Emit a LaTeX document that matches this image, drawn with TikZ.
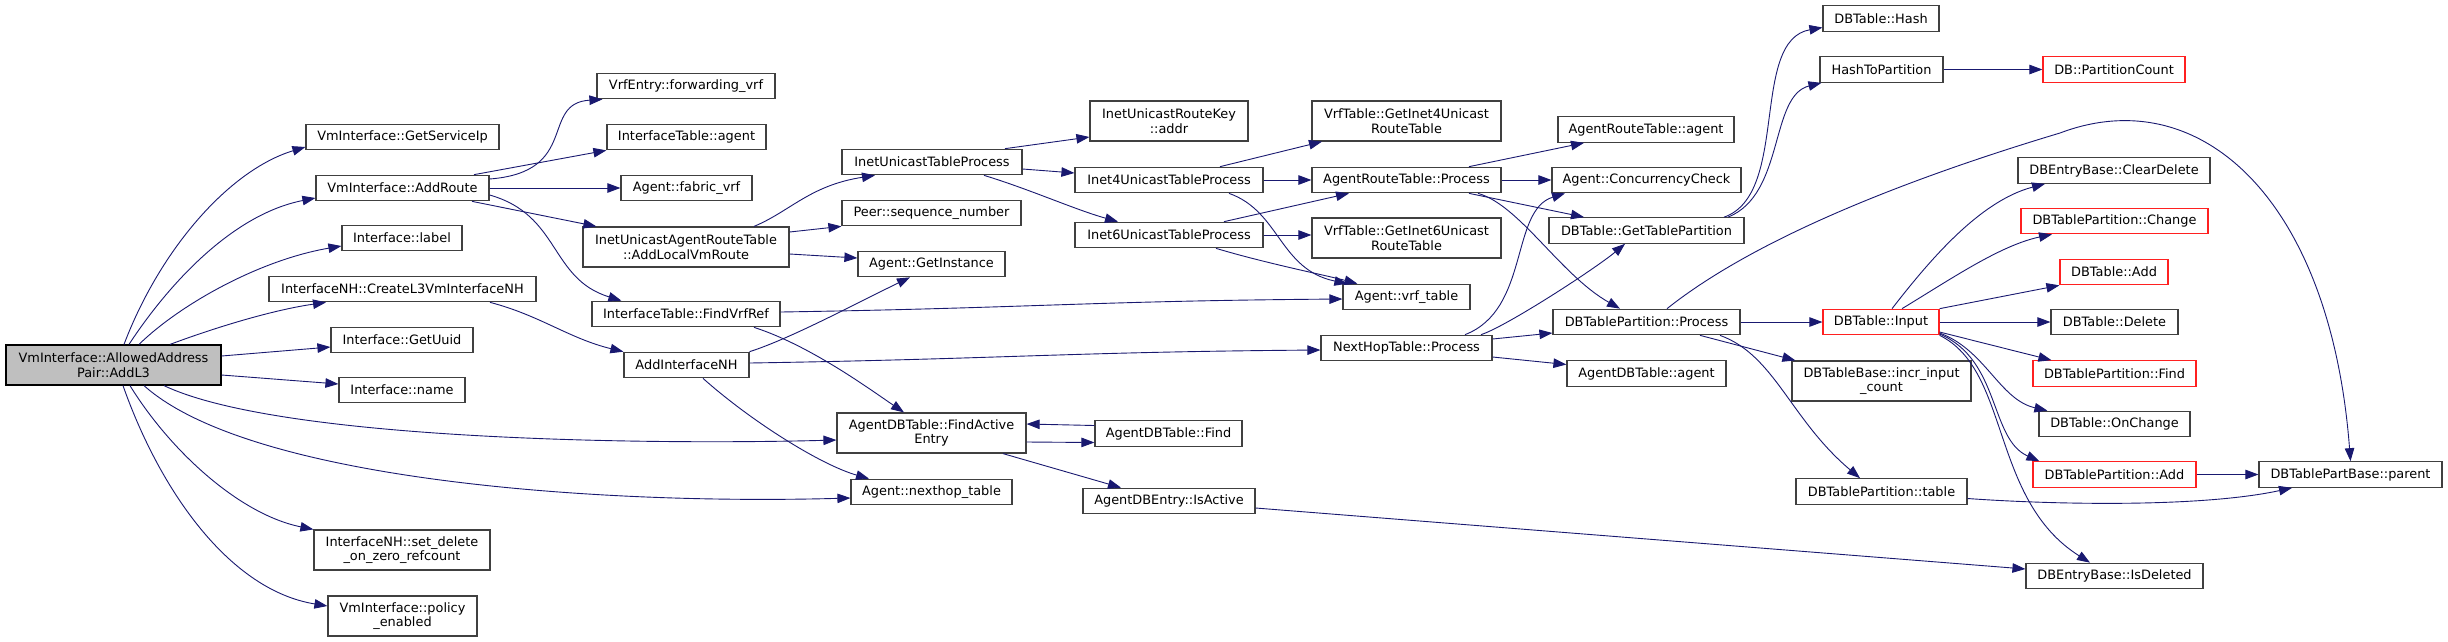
\documentclass[tikz,border=0pt]{standalone}
\usepackage{fontspec}
\setmainfont{DejaVu Sans}
\usetikzlibrary{arrows.meta}
\definecolor{edgec}{HTML}{191970}
\definecolor{bord}{HTML}{404040}
\definecolor{srcfill}{HTML}{BFBFBF}
\definecolor{redb}{HTML}{FF2020}
\tikzset{
  nd/.style={draw=bord, line width=1.2pt, fill=white, minimum height=25.5pt,
    inner xsep=2pt, inner ysep=0pt, align=center,
    font=\fontsize{12.9}{14.5}\selectfont},
  two/.style={minimum height=40pt},
  rd/.style={nd, draw=redb},
  src/.style={nd, two, fill=srcfill, draw=black},
  e/.style={-{Triangle[length=13pt,width=9.5pt]}, draw=edgec, line width=0.9pt},
}
\begin{document}
\begin{tikzpicture}[x=1pt,y=-1pt]
\useasboundingbox (0,0) rectangle (2448,641);
\fill[white] (0,0) rectangle (2448,641);
% column 1
\node[src, minimum width=215pt] (A) at (113.5,365) {VmInterface::AllowedAddress\\Pair::AddL3};
% column 2
\node[nd, minimum width=193pt] (gsip) at (402.5,137) {VmInterface::GetServiceIp};
\node[nd, minimum width=173pt] (addroute) at (402.5,188) {VmInterface::AddRoute};
\node[nd, minimum width=120pt] (label) at (402,238) {Interface::label};
\node[nd, minimum width=267pt] (createnh) at (402.5,289) {InterfaceNH::CreateL3VmInterfaceNH};
\node[nd, minimum width=142pt] (uuid) at (402,340) {Interface::GetUuid};
\node[nd, minimum width=126pt] (name) at (402,390) {Interface::name};
\node[nd, two, minimum width=176pt] (setdel) at (402,550) {InterfaceNH::set\_delete\\\_on\_zero\_refcount};
\node[nd, two, minimum width=149pt] (policy) at (402.5,616) {VmInterface::policy\\\_enabled};
% column 3
\node[nd, minimum width=178pt] (fwdvrf) at (686,86) {VrfEntry::forwarding\_vrf};
\node[nd, minimum width=159pt] (itagent) at (686.5,137) {InterfaceTable::agent};
\node[nd, minimum width=131pt] (fabvrf) at (686.5,188) {Agent::fabric\_vrf};
\node[nd, two, minimum width=206pt] (addlocal) at (686,247) {InetUnicastAgentRouteTable\\::AddLocalVmRoute};
\node[nd, minimum width=188pt] (findvrf) at (686,314) {InterfaceTable::FindVrfRef};
\node[nd, minimum width=125pt] (addnh) at (686.5,365) {AddInterfaceNH};
% column 4
\node[nd, minimum width=180pt] (inetproc) at (932,162) {InetUnicastTableProcess};
\node[nd, minimum width=179pt] (peer) at (931.5,213) {Peer::sequence\_number};
\node[nd, minimum width=147pt] (getinst) at (931.5,264) {Agent::GetInstance};
\node[nd, two, minimum width=189pt] (findactive) at (931.5,433) {AgentDBTable::FindActive\\Entry};
\node[nd, minimum width=161pt] (nhtable) at (931.5,492) {Agent::nexthop\_table};
% column 5
\node[nd, two, minimum width=158pt] (routekey) at (1169,121) {InetUnicastRouteKey\\::addr};
\node[nd, minimum width=188pt] (inet4) at (1169,180) {Inet4UnicastTableProcess};
\node[nd, minimum width=188pt] (inet6) at (1169,235) {Inet6UnicastTableProcess};
\node[nd, minimum width=147pt] (dbfind) at (1168.5,433.5) {AgentDBTable::Find};
\node[nd, minimum width=172pt] (isactive) at (1169,501) {AgentDBEntry::IsActive};
% column 6
\node[nd, two, minimum width=189pt] (getinet4) at (1406.5,121) {VrfTable::GetInet4Unicast\\RouteTable};
\node[nd, minimum width=189pt] (artproc) at (1406.5,180) {AgentRouteTable::Process};
\node[nd, two, minimum width=189pt] (getinet6) at (1406.5,238) {VrfTable::GetInet6Unicast\\RouteTable};
\node[nd, minimum width=127pt] (vrftable) at (1406.5,297) {Agent::vrf\_table};
\node[nd, minimum width=171pt] (nhproc) at (1406.5,348) {NextHopTable::Process};
% column 7
\node[nd, minimum width=176pt] (artagent) at (1646,129.5) {AgentRouteTable::agent};
\node[nd, minimum width=189pt] (conc) at (1646.5,180) {Agent::ConcurrencyCheck};
\node[nd, minimum width=195pt] (gettp) at (1646.5,230.5) {DBTable::GetTablePartition};
\node[nd, minimum width=187pt] (dbtpproc) at (1646.5,322) {DBTablePartition::Process};
\node[nd, minimum width=159pt] (adbagent) at (1646.5,373.5) {AgentDBTable::agent};
% column 8
\node[nd, minimum width=116pt] (hash) at (1881,18.5) {DBTable::Hash};
\node[nd, minimum width=123pt] (h2p) at (1881.5,69.5) {HashToPartition};
\node[rd, minimum width=116pt] (input) at (1881,322) {DBTable::Input};
\node[nd, two, minimum width=179pt] (incr) at (1881.5,381) {DBTableBase::incr\_input\\\_count};
\node[nd, minimum width=171pt] (tptable) at (1881.5,491.5) {DBTablePartition::table};
% column 9
\node[rd, minimum width=142pt] (pcount) at (2114,69.5) {DB::PartitionCount};
\node[nd, minimum width=192pt] (cleardel) at (2114,170.5) {DBEntryBase::ClearDelete};
\node[rd, minimum width=187pt] (change) at (2114.5,221) {DBTablePartition::Change};
\node[rd, minimum width=108pt] (dbadd) at (2114,272) {DBTable::Add};
\node[nd, minimum width=127pt] (dbdel) at (2114.5,322) {DBTable::Delete};
\node[rd, minimum width=163pt] (tpfind) at (2114.5,373.5) {DBTablePartition::Find};
\node[nd, minimum width=151pt] (onchange) at (2114.5,424) {DBTable::OnChange};
\node[rd, minimum width=163pt] (tpadd) at (2114.5,474.5) {DBTablePartition::Add};
\node[nd, minimum width=177pt] (isdel) at (2114.5,576) {DBEntryBase::IsDeleted};
% column 10
\node[nd, minimum width=183pt] (parent) at (2350.5,474.5) {DBTablePartBase::parent};
\coordinate (archtop) at (2060,133);

% edges from AddL3
\draw[e] ([xshift=10.5pt]A.north) .. controls +(36,-95) and +(-76,23) .. ([yshift=-10pt]gsip.west);
\draw[e] ([xshift=15.5pt]A.north) .. controls +(36,-55) and +(-86,17) .. ([yshift=-10pt]addroute.west);
\draw[e] ([xshift=25.5pt]A.north) .. controls +(41,-40) and +(-82,14) .. ([yshift=-8pt]label.west);
\draw[e] ([xshift=56.5pt]A.north) .. controls +(40,-15) and +(-56,8) .. ([xshift=-76.5pt]createnh.south);
\draw[e] ([yshift=9pt]A.east) -- ([yshift=-7pt]uuid.west);
\draw[e] ([yshift=-10pt]A.east) -- ([yshift=6pt]name.west);
\draw[e] ([xshift=50.5pt]A.south) .. controls +(116,55) and +(-187,5) .. ([yshift=-7pt]findactive.west);
\draw[e] ([xshift=30.5pt]A.south) .. controls +(106,95) and +(-251,7) .. ([yshift=-6pt]nhtable.west);
\draw[e] ([xshift=16.5pt]A.south) .. controls +(40,65) and +(-74,-15) .. (setdel.north west);
\draw[e] ([xshift=9.5pt]A.south) .. controls +(37,105) and +(-98,-16) .. ([yshift=10pt]policy.west);
% AddRoute
\draw[e] ([yshift=9pt]addroute.east) .. controls +(91,-7) and +(-63,4) .. ([xshift=6pt]fwdvrf.south west);
\draw[e] ([xshift=71.5pt]addroute.north) -- (itagent.south west);
\draw[e] (addroute.east) -- (fabvrf.west);
\draw[e] ([xshift=69.5pt]addroute.south) -- ([xshift=14pt]addlocal.north west);
\draw[e] ([yshift=-7pt]addroute.east) .. controls +(71,20) and +(-72,-22) .. ([xshift=30pt]findvrf.north west);
% CreateL3VmInterfaceNH
\draw[e] ([xshift=87.5pt]createnh.south) .. controls +(50,13) and +(-54,-13) .. (addnh.north west);
% AddLocalVmRoute
\draw[e] ([xshift=68pt]addlocal.north) .. controls +(36,-15) and +(-65,10) .. ([xshift=-57pt]inetproc.south);
\draw[e] ([yshift=15pt]addlocal.east) -- (peer.south west);
\draw[e] ([yshift=-7pt]addlocal.east) -- ([yshift=6pt]getinst.west);
% FindVrfRef
\draw[e] ([yshift=2pt]findvrf.east) .. controls +(250,-4) and +(-250,2) .. ([yshift=-2pt]vrftable.west);
\draw[e] ([xshift=68pt]findvrf.south) .. controls +(56,18) and +(-34,-23) .. ([xshift=-27.5pt]findactive.north);
% AddInterfaceNH
\draw[e] (addnh.north east) .. controls +(41,-13) and +(-50,24) .. ([xshift=-21.5pt]getinst.south);
\draw[e] ([yshift=2pt]addnh.east) .. controls +(250,-4) and +(-250,2) .. ([yshift=-2pt]nhproc.west);
\draw[e] ([xshift=16.5pt]addnh.south) .. controls +(47,42) and +(-49,-14) .. ([xshift=-62.5pt]nhtable.north);
% InetUnicastTableProcess
\draw[e] ([xshift=73pt]inetproc.north) -- ([yshift=-16pt]routekey.west);
\draw[e] ([yshift=-7pt]inetproc.east) -- ([yshift=7pt]inet4.west);
\draw[e] ([xshift=52pt]inetproc.south) .. controls +(46,14) and +(-43,-12) .. ([xshift=-51pt]inet6.north);
% FindActiveEntry / Find
\draw[e] ([yshift=-9pt]findactive.east) -- ([yshift=-9pt]dbfind.west);
\draw[e] ([yshift=8pt]dbfind.west) -- ([yshift=9pt]findactive.east);
\draw[e] ([xshift=71.5pt]findactive.south) -- ([xshift=-48pt]isactive.north);
% Inet4
\draw[e] ([xshift=51pt]inet4.north) -- ([xshift=-84.5pt]getinet4.south);
\draw[e] (inet4.east) -- (artproc.west);
\draw[e] ([xshift=60pt]inet4.south) .. controls +(51,18) and +(-68,-14) .. ([xshift=5pt]vrftable.north west);
% Inet6
\draw[e] ([xshift=55pt]inet6.north) -- ([xshift=-57.5pt]artproc.south);
\draw[e] (inet6.east) -- (inet6.east -| getinet6.west);
\draw[e] ([xshift=47pt]inet6.south) .. controls +(50,15) and +(-30,-8) .. ([xshift=15pt]vrftable.north west);
% AgentRouteTable::Process
\draw[e] ([xshift=62.5pt]artproc.north) -- ([xshift=-62pt]artagent.south);
\draw[e] (artproc.east) -- (conc.west);
\draw[e] ([xshift=62.5pt]artproc.south) -- ([xshift=-62.5pt]gettp.north);
\draw[e] ([xshift=71.5pt]artproc.south) .. controls +(42,12) and +(-60,-34) .. ([xshift=-26.5pt]dbtpproc.north);
% NextHopTable::Process
\draw[e] ([xshift=58.5pt]nhproc.north) .. controls +(65,-25) and +(-55,17) .. ([xshift=-81.5pt]conc.south);
\draw[e] ([xshift=74.5pt]nhproc.north) .. controls +(25,-8) and +(-30,25) .. ([xshift=-21.5pt]gettp.south);
\draw[e] ([yshift=9pt]nhproc.east) -- ([yshift=-11pt]dbtpproc.west);
\draw[e] ([yshift=-9pt]nhproc.east) -- ([yshift=9pt]adbagent.west);
% IsActive
\draw[e] ([yshift=-7pt]isactive.east) -- ([yshift=7pt]isdel.west);
% GetTablePartition
\draw[e] ([xshift=77.5pt]gettp.north) .. controls +(66,-23) and +(-73,13) .. ([yshift=-9pt]hash.west);
\draw[e] ([xshift=81.5pt]gettp.north) .. controls +(57,-23) and +(-52,13) .. ([xshift=2pt]h2p.south west);
\draw[e] (h2p.east) -- (pcount.west);
% DBTablePartition::Process
\draw[e] (dbtpproc.east) -- (input.west);
\draw[e] ([xshift=53.5pt]dbtpproc.south) -- ([xshift=4pt]incr.north west);
\draw[e] ([xshift=73.5pt]dbtpproc.south) .. controls +(55,20) and +(-70,-59) .. ([xshift=-21.5pt]tptable.north);
\draw[e] ([xshift=20.5pt]dbtpproc.north) .. controls +(93,-74) and +(-140,42) .. (archtop)
   .. controls +(140,-53) and +(-20,-262) .. (parent.north);
% DBTable::Input
\draw[e] ([xshift=11pt]input.north) .. controls +(38,-49) and +(-65,17) .. ([xshift=-69pt]cleardel.south);
\draw[e] ([xshift=21pt]input.north) .. controls +(48,-29) and +(-52,11) .. ([xshift=-62.5pt]change.south);
\draw[e] (input.north east) -- (dbadd.south west);
\draw[e] (input.east) -- (dbdel.west);
\draw[e] ([yshift=-10pt]input.east) -- ([xshift=19pt]tpfind.north west);
\draw[e] ([yshift=-11pt]input.east) .. controls +(46,17) and +(-48,-11) .. ([xshift=9pt]onchange.north west);
\draw[e] ([yshift=-12pt]input.east) .. controls +(61,26) and +(-50,-22) .. ([xshift=7pt]tpadd.north west);
\draw[e] (input.south east) .. controls +(71,35) and +(-100,-63) .. ([xshift=-24.5pt]isdel.north);
% others
\draw[e] (tpadd.east) -- (parent.west);
\draw[e] ([yshift=-7pt]tptable.east) .. controls +(83,6) and +(-92,20) .. ([xshift=-58.5pt]parent.south);
\end{tikzpicture}
\end{document}
